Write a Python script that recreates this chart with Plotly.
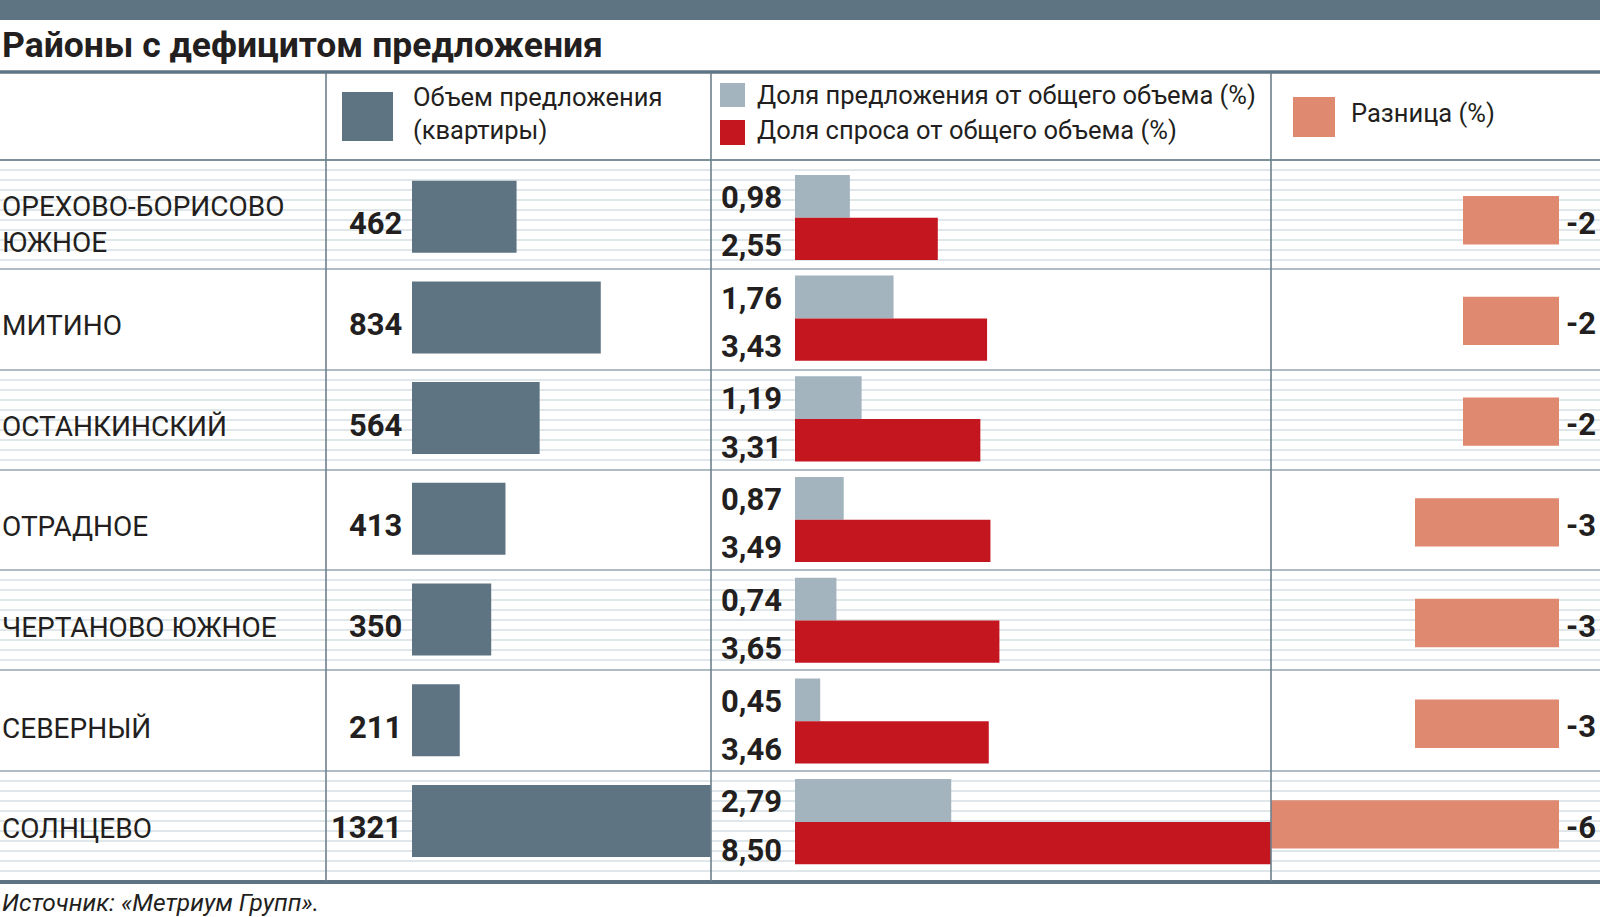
import plotly.graph_objects as go

W, H = 1600, 917

# ---------------- data ----------------
districts = ["ОРЕХОВО-БОРИСОВО<br>ЮЖНОЕ", "МИТИНО", "ОСТАНКИНСКИЙ", "ОТРАДНОЕ",
             "ЧЕРТАНОВО ЮЖНОЕ", "СЕВЕРНЫЙ", "СОЛНЦЕВО"]
supply_volume = [462, 834, 564, 413, 350, 211, 1321]
supply_share = [0.98, 1.76, 1.19, 0.87, 0.74, 0.45, 2.79]
demand_share = [2.55, 3.43, 3.31, 3.49, 3.65, 3.46, 8.50]
difference = [-2, -2, -2, -3, -3, -3, -6]

title_text = "Районы с дефицитом предложения"
source_text = "Источник: «Метриум Групп»."
legend_volume = "Объем предложения<br>(квартиры)"
legend_supply = "Доля предложения от общего объема (%)"
legend_demand = "Доля спроса от общего объема (%)"
legend_diff = "Разница (%)"

# ---------------- style ----------------
C_DARK = "#5f7482"
C_GREY = "#a3b4bf"
C_RED = "#c4161e"
C_SALMON = "#df8a70"
C_TEXT = "#231f20"
C_STRIPE = "#d6dfe4"
C_SEP = "#aebcc4"
C_DIV = "#6d808c"

NARROW = "Roboto, Liberation Sans, sans-serif"
TITLE_FONT = "Roboto, Liberation Sans, sans-serif"


def px(x):
    return x / W


def py(y):
    return 1 - y / H


pos = list(range(len(districts)))

# y axis: pixel 160 (top) .. 882 (bottom); row centres at 216.7 + 100.7*i
ROW0, ROWH = 216.7, 100.7
Y_TOP, Y_BOT = 160, 882
y_range = [(Y_BOT - ROW0) / ROWH, (Y_TOP - ROW0) / ROWH]

fig = go.Figure()

fig.add_trace(go.Bar(x=supply_volume, y=pos, orientation="h", width=0.715,
                     marker=dict(color=C_DARK, line=dict(width=0)),
                     xaxis="x", yaxis="y", hoverinfo="skip"))
fig.add_trace(go.Bar(x=supply_share, y=pos, orientation="h", width=0.425, offset=-0.415,
                     marker=dict(color=C_GREY, line=dict(width=0)),
                     xaxis="x2", yaxis="y", hoverinfo="skip"))
fig.add_trace(go.Bar(x=demand_share, y=pos, orientation="h", width=0.42, offset=0.01,
                     marker=dict(color=C_RED, line=dict(width=0)),
                     xaxis="x2", yaxis="y", hoverinfo="skip"))
fig.add_trace(go.Bar(x=difference, y=pos, orientation="h", width=0.48, offset=-0.205,
                     marker=dict(color=C_SALMON, line=dict(width=0)),
                     xaxis="x3", yaxis="y", hoverinfo="skip"))

ann = []
num_font = dict(family=NARROW, size=31, color=C_TEXT, weight=700)
for i, name in enumerate(districts):
    ann.append(dict(x=0, xref="paper", y=i, yref="y", text=name, showarrow=False,
                    xanchor="left", yanchor="middle", align="left", yshift=-8,
                    font=dict(family=NARROW, size=28, color=C_TEXT)))
    ann.append(dict(x=0, xref="x", y=i, yref="y", text=str(supply_volume[i]), showarrow=False,
                    xanchor="right", yanchor="middle", xshift=-8, yshift=-7, font=num_font))
    ann.append(dict(x=0, xref="x2", y=i - 0.2, yref="y",
                    text=f"{supply_share[i]:.2f}".replace(".", ","), showarrow=False,
                    xanchor="right", yanchor="middle", xshift=-11, yshift=-1, font=num_font))
    ann.append(dict(x=0, xref="x2", y=i + 0.22, yref="y",
                    text=f"{demand_share[i]:.2f}".replace(".", ","), showarrow=False,
                    xanchor="right", yanchor="middle", xshift=-11, yshift=-7, font=num_font))
    ann.append(dict(x=0, xref="x3", y=i + 0.035, yref="y",
                    text="-" + str(abs(difference[i])), showarrow=False,
                    xanchor="left", yanchor="middle", xshift=5, yshift=-3, font=num_font))

# header / legend texts
hdr_font = dict(family=NARROW, size=25.5, color=C_TEXT)
ann += [
    dict(x=px(0), y=py(45), xref="paper", yref="paper", text=title_text, showarrow=False,
         xanchor="left", yanchor="middle",
         font=dict(family=TITLE_FONT, size=35.5, color=C_TEXT, weight=700)),
    dict(x=px(411), y=py(114), xref="paper", yref="paper", text=legend_volume, showarrow=False,
         xanchor="left", yanchor="middle", align="left", font=hdr_font),
    dict(x=px(755), y=py(95), xref="paper", yref="paper", text=legend_supply, showarrow=False,
         xanchor="left", yanchor="middle", font=hdr_font),
    dict(x=px(755), y=py(130), xref="paper", yref="paper", text=legend_demand, showarrow=False,
         xanchor="left", yanchor="middle", font=hdr_font),
    dict(x=px(1349), y=py(113), xref="paper", yref="paper", text=legend_diff, showarrow=False,
         xanchor="left", yanchor="middle", font=hdr_font),
    dict(x=px(0), y=py(902), xref="paper", yref="paper", text=source_text, showarrow=False,
         xanchor="left", yanchor="middle",
         font=dict(family=NARROW, size=24.5, color=C_TEXT, style="italic")),
]

shapes = []


def hline(y, color, width, x0=0, x1=W, layer="below"):
    shapes.append(dict(type="line", xref="paper", yref="paper", x0=px(x0), x1=px(x1),
                       y0=py(y), y1=py(y), line=dict(color=color, width=width), layer=layer))


def rect(x0, y0, x1, y1, color, layer="above"):
    shapes.append(dict(type="rect", xref="paper", yref="paper", x0=px(x0), x1=px(x1),
                       y0=py(y0), y1=py(y1), fillcolor=color, line=dict(width=0), layer=layer))


# striped rows (1, 3, 5, 7)
seps = [160, 269, 370, 470, 570, 670, 771, 882]
for r in (0, 2, 4, 6):
    top, bot = seps[r], seps[r + 1]
    y = top + 10
    while y < bot - 4:
        hline(y, C_STRIPE, 1.6)
        y += 10
# row separators
for s in seps[1:-1]:
    hline(s, C_SEP, 2)

# top band, title rule, header rule, bottom rule
rect(0, 0, W, 20, C_DARK, layer="below")
hline(72, C_DARK, 3.5)
hline(160, "#7b8e99", 2.2)
hline(882, C_DARK, 4, layer="above")

# vertical dividers
for xd in (326, 711, 1271):
    shapes.append(dict(type="line", xref="paper", yref="paper", x0=px(xd), x1=px(xd),
                       y0=py(73), y1=py(881), line=dict(color=C_DIV, width=1.6), layer="above"))

# legend swatches
rect(342, 92, 393, 141, C_DARK)
rect(720, 83, 745, 107, C_GREY)
rect(720, 120, 745, 145, C_RED)
rect(1293, 97, 1335, 137, C_SALMON)

axis_common = dict(visible=False, fixedrange=True, anchor="y")
fig.update_layout(
    width=W, height=H,
    margin=dict(l=0, r=0, t=0, b=0),
    paper_bgcolor="white", plot_bgcolor="rgba(0,0,0,0)",
    showlegend=False, barmode="overlay",
    xaxis=dict(domain=[px(412), px(711)], range=[0, 1321], **axis_common),
    xaxis2=dict(domain=[px(795), px(1271)], range=[0, 8.5], **axis_common),
    xaxis3=dict(domain=[px(1271), px(1559)], range=[-6, 0], **axis_common),
    yaxis=dict(domain=[py(Y_BOT), py(Y_TOP)], range=y_range, visible=False, fixedrange=True),
    annotations=ann, shapes=shapes,
)

fig.write_html("out.html", config=dict(displayModeBar=False),
               post_script="document.body.style.margin='0';document.body.style.overflow='hidden';")
